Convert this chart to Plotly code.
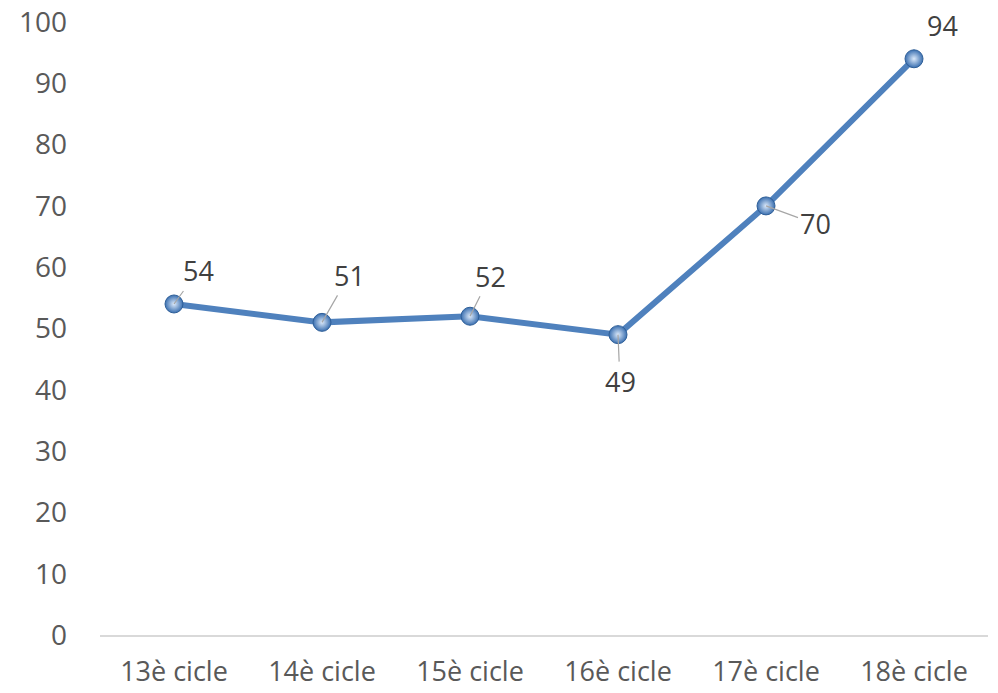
import plotly.graph_objects as go

cycles = ["13è cicle", "14è cicle", "15è cicle", "16è cicle", "17è cicle", "18è cicle"]
values = [54, 51, 52, 49, 70, 94]

# pixel offsets of each data label from its point (ax, ay, draw leader line)
label_offsets = [(24, -33, True), (27, -47, True), (20, -40, True),
                 (2, 47, True), (49, 18, True), (28, -33, False)]

FONT = "Open Sans, Noto Sans, sans-serif"
TEXT = "#595959"

fig = go.Figure()
fig.add_trace(go.Scatter(
    x=cycles, y=values, mode="lines+markers",
    line=dict(color="#4f81bd", width=6),
    marker=dict(size=18, color="#3a6fb0",
                gradient=dict(type="radial", color="#dbe9fa"),
                line=dict(color="#2f5f98", width=1)),
    cliponaxis=False, showlegend=False,
))

annotations = []
for cat, val, (ax, ay, lead) in zip(cycles, values, label_offsets):
    annotations.append(dict(
        x=cat, y=val, xref="x", yref="y", text=str(val),
        showarrow=True, arrowhead=0, arrowwidth=1.2,
        arrowcolor="#a6a6a6" if lead else "rgba(0,0,0,0)",
        ax=ax, ay=ay, standoff=0,
        font=dict(size=27, color="#404040", family=FONT),
    ))

fig.update_layout(
    width=998, height=693,
    paper_bgcolor="white", plot_bgcolor="white",
    margin=dict(l=100, r=10, t=22, b=58, autoexpand=False),
    font=dict(family=FONT, size=28, color=TEXT),
    annotations=annotations,
    xaxis=dict(type="category", range=[-0.5, 5.5], showgrid=False, showline=True,
               linecolor="#d9d9d9", linewidth=2, ticks="", ticklabelstandoff=12,
               tickfont=dict(size=27), zeroline=False, automargin=False,
               ticklabeloverflow="allow"),
    yaxis=dict(range=[0, 100], dtick=10, showgrid=False, showline=False, zeroline=False,
               ticks="", ticklabelstandoff=32, automargin=False, ticklabeloverflow="allow"),
)

# drop the default page margin so the figure fills the window
fig.write_html("out.html", config={"displayModeBar": False},
               post_script="document.body.style.margin = '0';")
